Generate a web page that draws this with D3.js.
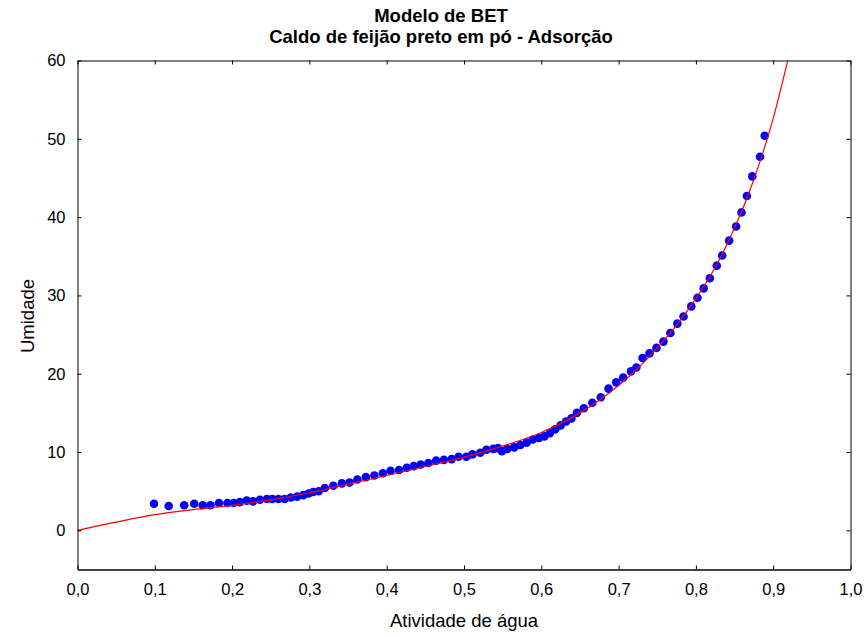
<!DOCTYPE html>
<html>
<head>
<meta charset="utf-8">
<script src="https://cdn.jsdelivr.net/npm/d3@7/dist/d3.min.js"></script>
<style>
  html, body { margin: 0; padding: 0; background: #fff; overflow: hidden; }
  svg { display: block; font-family: Arial, "Liberation Sans", sans-serif; }
</style>
</head>
<body>
<div id="chart"></div>
<script>
// Observed data (water activity vs. moisture)
const awObs = [0.099, 0.118, 0.138, 0.151, 0.162, 0.172, 0.183, 0.194, 0.202, 0.210,
  0.219, 0.227, 0.236, 0.245, 0.252, 0.260, 0.268, 0.276, 0.284, 0.292,
  0.299, 0.305, 0.312, 0.320, 0.331, 0.342, 0.352, 0.362, 0.373, 0.384,
  0.395, 0.405, 0.416, 0.426, 0.435, 0.444, 0.454, 0.464, 0.474, 0.484,
  0.493, 0.503, 0.511, 0.521, 0.529, 0.538, 0.544, 0.549, 0.556, 0.565,
  0.573, 0.581, 0.589, 0.597, 0.604, 0.611, 0.618, 0.625, 0.632, 0.639,
  0.646, 0.655, 0.666, 0.677, 0.687, 0.697, 0.706, 0.716, 0.723, 0.731,
  0.740, 0.749, 0.758, 0.767, 0.776, 0.784, 0.794, 0.802, 0.810, 0.818,
  0.827, 0.834, 0.843, 0.852, 0.859, 0.866, 0.873, 0.883, 0.889];
const umidObs = [3.4, 3.1, 3.2, 3.4, 3.2, 3.2, 3.5, 3.5, 3.5, 3.6,
  3.8, 3.7, 3.9, 4.0, 4.0, 4.0, 4.0, 4.2, 4.3, 4.5,
  4.7, 4.9, 5.0, 5.4, 5.7, 6.0, 6.1, 6.5, 6.8, 7.0,
  7.3, 7.6, 7.7, 8.0, 8.2, 8.4, 8.6, 8.9, 9.0, 9.1,
  9.4, 9.4, 9.7, 9.9, 10.3, 10.4, 10.5, 10.1, 10.4, 10.6,
  10.9, 11.2, 11.6, 11.8, 12.0, 12.4, 12.9, 13.4, 13.9, 14.3,
  15.0, 15.6, 16.3, 17.0, 18.1, 18.9, 19.5, 20.3, 20.8, 22.0,
  22.6, 23.3, 24.1, 25.2, 26.4, 27.3, 28.6, 29.7, 30.9, 32.2,
  33.8, 35.1, 37.0, 38.8, 40.6, 42.7, 45.2, 47.7, 50.4];

// Fitted BET curve
const awFit = [0, 0.05, 0.1, 0.15, 0.2, 0.25, 0.3, 0.35, 0.4, 0.45, 0.5, 0.55, 0.6,
  0.65, 0.7, 0.725, 0.75, 0.775, 0.8, 0.825, 0.85, 0.875, 0.9, 0.92];
const umidFit = [0, 1.05, 2.0, 2.65, 3.2, 3.9, 4.8, 5.9, 7.0, 8.15, 9.35, 10.75, 12.5,
  15.0, 18.5, 20.7, 23.3, 26.2, 29.6, 33.6, 38.6, 44.8, 52.6, 60.5];

const xTicks = [0, 0.1, 0.2, 0.3, 0.4, 0.5, 0.6, 0.7, 0.8, 0.9, 1.0];
const yTicks = [0, 10, 20, 30, 40, 50, 60];

const width = 864, height = 637;
const margin = { top: 60.5, right: 13.5, bottom: 67.5, left: 77.5 };
const innerWidth = width - margin.left - margin.right;
const innerHeight = height - margin.top - margin.bottom;

const svg = d3.select('#chart').append('svg')
  .attr('width', width)
  .attr('height', height);

const g = svg.append('g')
  .attr('transform', `translate(${margin.left},${margin.top})`);

const x = d3.scaleLinear().domain([0, 1]).range([0, innerWidth]);
const y = d3.scaleLinear().domain([-5, 60]).range([innerHeight, 0]);

g.append('clipPath').attr('id', 'clip')
  .append('rect').attr('width', innerWidth).attr('height', innerHeight);

// Points
const pts = awObs.map((a, i) => ({ a, u: umidObs[i] }));
g.selectAll('.pt')
  .data(pts)
  .enter()
  .append('circle')
  .attr('class', 'pt')
  .attr('cx', d => x(d.a))
  .attr('cy', d => y(d.u))
  .attr('r', 4.3)
  .attr('fill', '#0000ff');

// Fit line
const fit = awFit.map((a, i) => ({ a, u: umidFit[i] }));
g.append('path')
  .datum(fit)
  .attr('clip-path', 'url(#clip)')
  .attr('fill', 'none')
  .attr('stroke', '#ff0000')
  .attr('stroke-width', 1.2)
  .attr('d', d3.line().x(d => x(d.a)).y(d => y(d.u)).curve(d3.curveMonotoneX));

// Axes (ticks pointing inward)
const fmt = d => d.toFixed(1).replace('.', ',');

const xAxis = g.append('g')
  .attr('transform', `translate(0,${innerHeight})`)
  .call(d3.axisBottom(x).tickValues(xTicks).tickSizeInner(-4).tickSizeOuter(0).tickPadding(14).tickFormat(fmt));
xAxis.select('.domain').attr('stroke', '#444').attr('stroke-width', 2);

const xTop = g.append('g')
  .call(d3.axisTop(x).tickValues(xTicks).tickSizeInner(-4).tickSizeOuter(0));

const yAxis = g.append('g')
  .call(d3.axisLeft(y).tickValues(yTicks).tickSizeInner(-4).tickSizeOuter(0).tickPadding(12));

const yRight = g.append('g')
  .attr('transform', `translate(${innerWidth},0)`)
  .call(d3.axisRight(y).tickValues(yTicks).tickSizeInner(-4).tickSizeOuter(0));

// mirror axes carry ticks only
xTop.selectAll('text').remove();
yRight.selectAll('text').remove();

[xAxis, xTop, yAxis, yRight].forEach(ax => {
  ax.attr('font-size', null).attr('font-family', null);
  ax.selectAll('text')
    .attr('fill', '#000')
    .attr('font-size', '16.5px');
  ax.selectAll('line').attr('stroke', '#000');
});
xTop.select('.domain').attr('stroke', '#000');
yAxis.select('.domain').attr('stroke', '#000');
yRight.select('.domain').attr('stroke', '#000');

// Titles
svg.append('text')
  .attr('x', 441)
  .attr('y', 22)
  .attr('text-anchor', 'middle')
  .attr('font-size', '18.5px')
  .style('font-weight', 'bold')
  .text('Modelo de BET');

svg.append('text')
  .attr('x', 441)
  .attr('y', 43)
  .attr('text-anchor', 'middle')
  .attr('font-size', '18.5px')
  .style('font-weight', 'bold')
  .text('Caldo de feijão preto em pó - Adsorção');

svg.append('text')
  .attr('x', margin.left + innerWidth / 2)
  .attr('y', 627)
  .attr('text-anchor', 'middle')
  .attr('font-size', '18.5px')
  .text('Atividade de água');

svg.append('text')
  .attr('transform', `translate(34,316) rotate(-90)`)
  .attr('text-anchor', 'middle')
  .attr('font-size', '18.5px')
  .text('Umidade');
</script>
</body>
</html>
